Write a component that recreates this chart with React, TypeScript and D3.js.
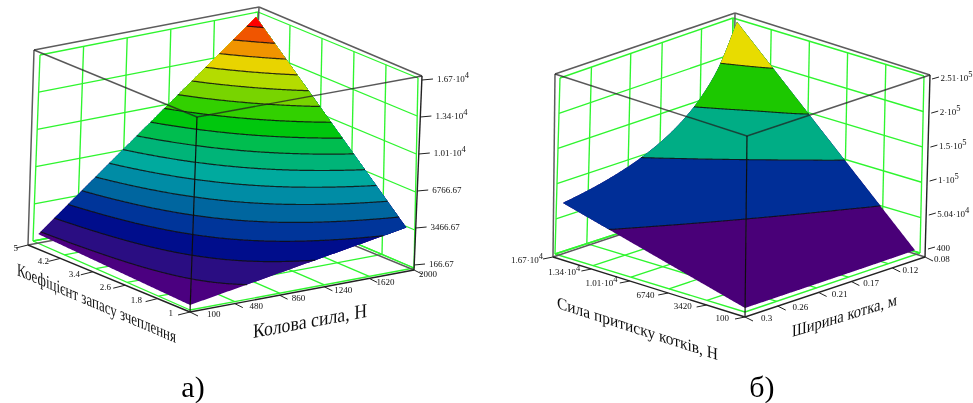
import React from "react";
import * as d3 from "d3";

// ---------- data ----------
const forceTicksA = [100, 480, 860, 1240, 1620, 2000];
const gripTicksA = [1, 1.8, 2.6, 3.4, 4.2, 5];
const zTicksA = [166.67, 3466.67, 6766.67, 10066.67, 13366.67, 16666.67];
const levelsA = [1000, 2000, 3000, 4000, 5000, 6000, 7000, 8000, 9000, 10000, 11000, 12000, 13000, 14000, 15000, 16000];
const coloursA = ["#4b0080", "#2a0a82", "#000a8c", "#00369a", "#00669f", "#008ca5", "#00aa9e", "#00b478", "#00bd50", "#00c70f", "#30d000", "#78d400", "#b4dc00", "#e8d400", "#f09400", "#f05400", "#ff0000"];
// rows: grip coefficient, columns: circumferential force
const surfaceA = [
  [166.67, 800, 1433.33, 2066.67, 2700, 3333.33],
  [300, 1440, 2580, 3720, 4860, 6000],
  [433.33, 2080, 3726.67, 5373.33, 7020, 8666.67],
  [566.67, 2720, 4873.33, 7026.67, 9180, 11333.33],
  [700, 3360, 6020, 8680, 11340, 14000],
  [833.33, 4000, 7166.67, 10333.33, 13500, 16666.67],
];

const forceTicksB = [100, 3420, 6740, 10060, 13380, 16700];
const widthTicksB = [0.3, 0.26, 0.21, 0.17, 0.12, 0.08];
const widthSamplesB = [0.3, 0.278, 0.256, 0.234, 0.212, 0.19, 0.168, 0.146, 0.124, 0.102, 0.08];
const zTicksB = [400, 50400, 100400, 150400, 200400, 250600];
const levelsB = [50000, 100000, 150000, 200000];
const coloursB = ["#4a0078", "#002f97", "#00ad85", "#1ec800", "#e8dc00"];
// rows: pressing force, columns: roller width
const surfaceB = [
  [400, 432, 469, 513, 566, 632, 714, 822, 968, 1176, 1500],
  [13680, 14763, 16031, 17538, 19358, 21600, 24429, 28110, 33097, 40235, 51300],
  [26960, 29093, 31594, 34564, 38151, 42568, 48143, 55397, 65226, 79294, 101100],
  [40240, 43424, 47156, 51590, 56944, 63537, 71857, 82685, 97355, 118353, 150900],
  [53520, 57755, 62719, 68614, 75736, 84505, 95572, 109972, 129484, 157412, 200700],
  [66800, 72086, 78281, 85640, 94529, 105474, 119286, 137261, 161613, 196471, 250500],
];

// ---------- geometry ----------
type Pt = [number, number];
type Box = { n: Pt; r: Pt; l: Pt; b: Pt; tn: Pt; tr: Pt; tl: Pt; tb: Pt };
const mix = (a: Pt, b: Pt, t: number): Pt => [a[0] + (b[0] - a[0]) * t, a[1] + (b[1] - a[1]) * t];
const project = (box: Box, u: number, v: number, w: number): Pt => {
  const base = mix(mix(box.n, box.r, u), mix(box.l, box.b, u), v);
  const top = mix(mix(box.tn, box.tr, u), mix(box.tl, box.tb, u), v);
  return mix(base, top, w);
};
const raised = (n: Pt, r: Pt, l: Pt, b: Pt, up: Pt): Box => {
  const add = (p: Pt): Pt => [p[0] + up[0], p[1] + up[1]];
  return { n, r, l, b, tn: add(n), tr: add(r), tl: add(l), tb: add(b) };
};
const line = d3.line<Pt>().x((p) => p[0]).y((p) => p[1]);

type Axis = {
  ticks: number[];
  scale: d3.ScaleLinear<number, number>;
  tick: Pt;
  start: Pt; // label offset at the first tick
  end: Pt; // label offset at the last tick
  anchor: "start" | "end";
};
type Title = { text: string; from: Pt; to: Pt; size: number };
type PanelCfg = {
  frame: Box;
  grid: Box;
  surf: Box;
  uAxis: Axis;
  vAxis: Axis;
  zTicks: number[];
  zScale: d3.ScaleLinear<number, number>;
  zLine: [Pt, Pt];
  zTick: Pt;
  zLabelDx: number;
  sample: (u: number, v: number) => number;
  surfZ: d3.ScaleLinear<number, number>;
  levels: number[];
  colours: string[];
  contourW: number;
  titles: Title[];
  caption: { text: string; at: Pt };
};

// linear between rows, Catmull-Rom across the evenly spaced columns
const tableSampler = (rowsPos: number[], colsPos: number[], table: number[][]) => (u: number, v: number) => {
  const f = (arr: number[], t: number) => {
    const i = Math.min(arr.length - 2, Math.max(0, d3.bisectRight(arr, t) - 1));
    return [i, (t - arr[i]) / (arr[i + 1] - arr[i])];
  };
  const [c, t] = f(colsPos, u);
  const [r, rt] = f(rowsPos, v);
  const along = (row: number[]) => {
    const p1 = row[c];
    const p2 = row[c + 1];
    const p0 = c > 0 ? row[c - 1] : 2 * p1 - p2;
    const p3 = c + 2 < row.length ? row[c + 2] : 2 * p2 - p1;
    return 0.5 * (2 * p1 + (p2 - p0) * t + (2 * p0 - 5 * p1 + 4 * p2 - p3) * t * t + (3 * p1 - p0 - 3 * p2 + p3) * t * t * t);
  };
  const a = along(table[r]);
  const b = along(table[r + 1]);
  return a + (b - a) * rt;
};

const uA = d3.scaleLinear().domain([100, 2000]).range([0, 1]);
const vA = d3.scaleLinear().domain([1, 5]).range([0, 1]);
const uB = d3.scaleLinear().domain([0.3, 0.08]).range([0, 1]);
const vB = d3.scaleLinear().domain([100, 16700]).range([0, 1]);

const panelA: PanelCfg = {
  frame: { n: [190, 312], r: [414, 270], l: [28, 245], b: [251, 203], tn: [197, 117], tr: [422, 76], tl: [34, 50], tb: [259, 7] },
  grid: { n: [190, 310], r: [414, 268], l: [33, 241], b: [254, 200], tn: [197, 121], tr: [418, 78], tl: [40, 55], tb: [258, 12] },
  surf: raised([190, 305], [405, 265], [38, 242], [249, 212], [7, -195]),
  uAxis: { ticks: forceTicksA, scale: uA, tick: [8, 4], start: [17, 5], end: [5, 7], anchor: "start" },
  vAxis: { ticks: gripTicksA, scale: vA, tick: [-12, 3], start: [-17, 4], end: [-10, 6], anchor: "end" },
  zTicks: zTicksA,
  zScale: d3.scaleLinear().domain([166.67, 16666.67]).range([0, 1]),
  zLine: [[414, 265], [422, 80]],
  zTick: [11, -1],
  zLabelDx: 15,
  sample: tableSampler(gripTicksA.map((k) => vA(k)), forceTicksA.map((x) => uA(x)), surfaceA),
  surfZ: d3.scaleLinear().domain([166.67, 16666.67]).range([0, 1]),
  levels: levelsA,
  colours: coloursA,
  contourW: 1.2,
  titles: [
    { text: "Коефіцієнт запасу зчеплення", from: [17, 275], to: [176, 343], size: 18 },
    { text: "Колова сила, Н", from: [253, 338], to: [367, 317], size: 20 },
  ],
  caption: { text: "а)", at: [193, 397] },
};

const panelB: PanelCfg = {
  frame: { n: [745, 317], r: [925, 257], l: [553, 257], b: [733, 197], tn: [747, 136], tr: [930, 75], tl: [555, 74], tb: [735, 13] },
  grid: { n: [745, 312], r: [920, 253], l: [555, 254], b: [730, 197], tn: [747, 136], tr: [924, 76], tl: [560, 78], tb: [733, 18] },
  surf: raised([745, 308], [915, 251], [562, 251.5], [734, 205], [3, -183]),
  uAxis: { ticks: widthTicksB, scale: uB, tick: [8, 4], start: [16, 4], end: [9, 5], anchor: "start" },
  vAxis: { ticks: forceTicksB, scale: vB, tick: [-10, 2], start: [-16, 4], end: [-10, 6], anchor: "end" },
  zTicks: zTicksB,
  zScale: d3.scaleLinear().domain([400, 250600]).range([0, 1]),
  zLine: [[928, 249], [932, 79]],
  zTick: [7, -2],
  zLabelDx: 8.5,
  sample: tableSampler(forceTicksB.map((f) => vB(f)), widthSamplesB.map((w) => uB(w)), surfaceB),
  surfZ: d3.scaleLinear().domain([400, 250500]).range([0, 1]),
  levels: levelsB,
  colours: coloursB,
  contourW: 1.1,
  titles: [
    { text: "Сила притиску котків, Н", from: [557, 308], to: [718, 360], size: 17 },
    { text: "Ширина котка, м", from: [792, 337], to: [897, 305], size: 17 },
  ],
  caption: { text: "б)", at: [762, 397] },
};

const fmt = (v: number): { base: string; exp?: number } => {
  if (v < 1e4) return { base: String(v) };
  const e = Math.floor(Math.log10(v));
  return { base: `${+(v / 10 ** e).toFixed(2)}·10`, exp: e };
};

const SERIF = "'Liberation Serif', serif";

const TickText = ({ v, x, y, anchor }: { v: number; x: number; y: number; anchor: "start" | "end" }) => {
  const f = fmt(v);
  return (
    <text x={x} y={y} textAnchor={anchor} fontFamily={SERIF} fontSize={9} fill="#111">
      {f.base}
      {f.exp !== undefined && (
        <tspan dy={-4} fontSize={8.5}>
          {f.exp}
        </tspan>
      )}
    </text>
  );
};

const N = 160;

const Panel = ({ cfg }: { cfg: PanelCfg }) => {
  const { frame, grid, surf } = cfg;
  // surface bands
  const values: number[] = [];
  for (let j = 0; j < N; j++) for (let i = 0; i < N; i++) values.push(cfg.sample(i / (N - 1), j / (N - 1)));
  const lowest = d3.min(values)! - 1;
  const polys = d3.contours().size([N, N]).thresholds([lowest, ...cfg.levels])(values);
  const toScreen = (g: number[]): Pt => {
    const u = Math.min(1, Math.max(0, (g[0] - 0.5) / (N - 1)));
    const v = Math.min(1, Math.max(0, (g[1] - 0.5) / (N - 1)));
    return project(surf, u, v, cfg.surfZ(cfg.sample(u, v)));
  };
  const inner = (g: number[]) => g[0] >= 0.5 && g[0] <= N - 0.5 && g[1] >= 0.5 && g[1] <= N - 0.5;
  const ringPath = (ring: number[][]) => line(ring.map(toScreen)) + "Z";
  const contourPath = (ring: number[][]) =>
    d3
      .line<number[]>()
      .defined(inner)
      .x((g) => toScreen(g)[0])
      .y((g) => toScreen(g)[1])(ring) ?? "";

  // green grid
  const gridLines: [Pt, Pt][] = [];
  const us = cfg.uAxis.ticks.map((t) => cfg.uAxis.scale(t));
  const vs = cfg.vAxis.ticks.map((t) => cfg.vAxis.scale(t));
  const zs = cfg.zTicks.map((t) => cfg.zScale(t));
  us.forEach((u) => {
    gridLines.push([project(grid, u, 1, 0), project(grid, u, 1, 1)]); // left wall verticals
    gridLines.push([project(grid, u, 0, 0), project(grid, u, 1, 0)]); // floor
  });
  vs.forEach((v) => {
    gridLines.push([project(grid, 1, v, 0), project(grid, 1, v, 1)]); // right wall verticals
    gridLines.push([project(grid, 0, v, 0), project(grid, 1, v, 0)]); // floor
  });
  zs.forEach((z) => {
    gridLines.push([project(grid, 0, 1, z), project(grid, 1, 1, z)]);
    gridLines.push([project(grid, 1, 0, z), project(grid, 1, 1, z)]);
  });

  const backEdges: [Pt, Pt][] = [
    [frame.tl, frame.tb],
    [frame.tb, frame.tr],
    [frame.l, frame.tl],
    [frame.b, frame.tb],
    [frame.l, frame.b],
    [frame.r, frame.b],
  ];
  const frontEdges: [Pt, Pt][] = [
    [frame.tl, frame.tn],
    [frame.tn, frame.tr],
  ];

  const axisMarks = (axis: Axis, from: Pt, to: Pt) =>
    axis.ticks.map((t, i) => {
      const s = axis.scale(t);
      const p = mix(from, to, s);
      const o = mix(axis.start, axis.end, s);
      return (
        <g key={i}>
          <line x1={p[0]} y1={p[1]} x2={p[0] + axis.tick[0]} y2={p[1] + axis.tick[1]} stroke="#222" strokeWidth={1} />
          <TickText v={t} x={p[0] + o[0]} y={p[1] + o[1]} anchor={axis.anchor} />
        </g>
      );
    });

  const zLine = d3.scaleLinear<number>().domain([0, 1]);
  const zx = zLine.copy().range([cfg.zLine[0][0], cfg.zLine[1][0]]);
  const zy = zLine.copy().range([cfg.zLine[0][1], cfg.zLine[1][1]]);

  return (
    <g>
      {gridLines.map((l, i) => (
        <path key={i} d={line(l)!} stroke="#2ef52e" strokeWidth={1.35} fill="none" />
      ))}
      {backEdges.map((l, i) => (
        <path key={i} d={line(l)!} stroke="#5c5c5c" strokeWidth={1.5} fill="none" />
      ))}
      {polys.map((mp, i) => (
        <path
          key={i}
          d={mp.coordinates.map((poly) => poly.map(ringPath).join("")).join("")}
          fill={cfg.colours[i]}
          fillRule="evenodd"
        />
      ))}
      {polys.slice(1).map((mp, i) => (
        <path
          key={i}
          d={mp.coordinates.map((poly) => poly.map(contourPath).join("")).join("")}
          fill="none"
          stroke="#111"
          strokeOpacity={0.85}
          strokeWidth={cfg.contourW}
        />
      ))}
      {frontEdges.map((l, i) => (
        <path key={i} d={line(l)!} stroke="#222" strokeOpacity={0.75} strokeWidth={1.4} fill="none" />
      ))}
      <path d={line([frame.n, frame.tn])!} stroke="#111" strokeWidth={1.2} fill="none" />
      <path d={line([frame.r, frame.tr])!} stroke="#222" strokeWidth={1.4} fill="none" />
      <path d={line([frame.l, frame.n])!} stroke="#222" strokeWidth={1.4} fill="none" />
      <path d={line([frame.n, frame.r])!} stroke="#222" strokeWidth={1.4} fill="none" />
      {axisMarks(cfg.uAxis, frame.n, frame.r)}
      {axisMarks(cfg.vAxis, frame.n, frame.l)}
      {cfg.zTicks.map((t, i) => {
        const s = cfg.zScale(t);
        const x = zx(s);
        const y = zy(s);
        return (
          <g key={i}>
            <line x1={x} y1={y} x2={x + cfg.zTick[0]} y2={y + cfg.zTick[1]} stroke="#222" strokeWidth={1} />
            <TickText v={t} x={x + cfg.zLabelDx} y={y + 2} anchor="start" />
          </g>
        );
      })}
      {cfg.titles.map((t, i) => {
        const dx = t.to[0] - t.from[0];
        const slope = (t.to[1] - t.from[1]) / dx;
        return (
          <text
            key={i}
            transform={`matrix(1 ${slope} 0 1 ${t.from[0]} ${t.from[1]})`}
            fontFamily={SERIF}
            fontSize={t.size}
            textLength={dx}
            lengthAdjust="spacingAndGlyphs"
            fill="#111"
          >
            {t.text}
          </text>
        );
      })}
      <text x={cfg.caption.at[0]} y={cfg.caption.at[1]} textAnchor="middle" fontFamily={SERIF} fontSize={30} fill="#000">
        {cfg.caption.text}
      </text>
    </g>
  );
};

export default function App() {
  return (
    <svg
      width={973}
      height={403}
      viewBox="0 0 973 403"
      style={{ position: "absolute", left: 0, top: 0, display: "block", background: "#fff" }}
    >
      <defs>
        <filter id="soft" x="0" y="0" width="100%" height="100%">
          <feGaussianBlur stdDeviation={0.35} />
        </filter>
      </defs>
      <g filter="url(#soft)">
        <rect width={973} height={403} fill="#fff" />
        <Panel cfg={panelA} />
        <Panel cfg={panelB} />
      </g>
    </svg>
  );
}
